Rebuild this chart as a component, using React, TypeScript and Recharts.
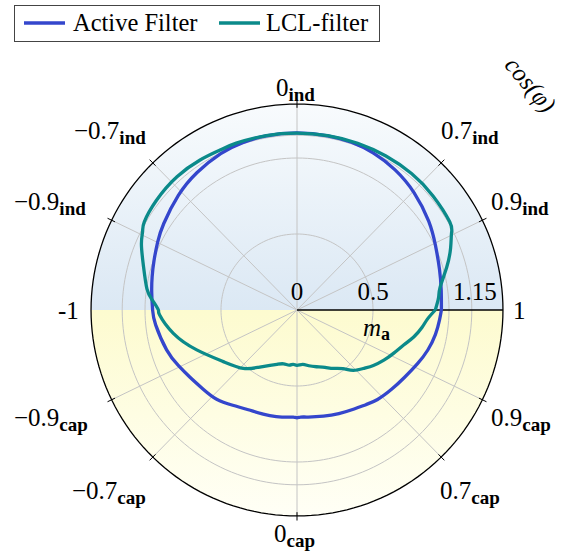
import React from 'react';
import { ComposedChart, Line, Area, XAxis, YAxis } from 'recharts';

// ---------- data (angle in degrees CCW from the cos=1 direction, value = m_a) ----------
const activeAngle = [0, 8, 16, 25, 34, 45, 55, 64, 72, 80, 90, 100, 108, 116, 126, 136, 147, 154, 161, 167, 173, 180, 186, 197, 205, 212, 220, 228, 236, 244, 252, 259, 265, 268, 270, 272, 276, 284, 292, 300, 306, 312, 320, 328, 336, 343, 350, 356, 360];
const activeMa = [0.95, 0.958, 0.975, 1.005, 1.045, 1.09, 1.125, 1.148, 1.16, 1.164, 1.165, 1.164, 1.158, 1.145, 1.118, 1.085, 1.045, 1.02, 0.995, 0.978, 0.963, 0.95, 0.935, 0.897, 0.862, 0.832, 0.808, 0.79, 0.756, 0.73, 0.72, 0.714, 0.708, 0.705, 0.709, 0.705, 0.708, 0.72, 0.735, 0.752, 0.77, 0.792, 0.812, 0.835, 0.868, 0.9, 0.925, 0.94, 0.95];

const lclAngle = [0, 5, 9, 16, 22, 26.5, 30, 40, 50, 60, 70, 80, 90, 100, 110, 116, 123, 132, 142, 150, 153, 157, 164, 172, 176, 180, 182, 190.7, 201.7, 215, 227.4, 236, 244, 250, 256, 262, 266, 270, 276, 282, 289, 296, 302, 308, 313, 319, 324, 330, 336, 342, 347, 352, 356, 360];
const lclMa = [0.91, 0.935, 0.953, 1.025, 1.09, 1.136, 1.16, 1.168, 1.172, 1.17, 1.167, 1.165, 1.163, 1.165, 1.168, 1.168, 1.175, 1.18, 1.173, 1.16, 1.14, 1.112, 1.051, 0.997, 0.955, 0.912, 0.905, 0.828, 0.71, 0.592, 0.522, 0.455, 0.405, 0.38, 0.365, 0.366, 0.358, 0.364, 0.36, 0.375, 0.395, 0.42, 0.453, 0.49, 0.543, 0.585, 0.621, 0.66, 0.697, 0.74, 0.788, 0.83, 0.86, 0.91];

const radialTickLabels = ['0', '0.5', '1.15'];
const radialTickValues = [0, 0.5, 1.15];
const gridRadii = [0.5, 1, 1.15];
const cosTickValues = [0, 0.7, 0.9];
const R_OUT = 1.355;

// ---------- layout ----------
const W = 569;
const H = 554;
const CX = 297;
const CY = 310;
const U = 152; // px per unit of m_a
const D = 1.45;
const BLUE = '#3446cc';
const TEAL = '#0b8a8a';
const GRID = '#c4c4c4';
const FONT = '"Liberation Serif", "Times New Roman", serif';

const rad = (a: number) => (a * Math.PI) / 180;
const toXY = (angles: number[], ma: number[]) =>
  angles.map((a, i) => ({ x: ma[i] * Math.cos(rad(a)), y: ma[i] * Math.sin(rad(a)) }));

const activeData = toXY(activeAngle, activeMa);
const lclData = toXY(lclAngle, lclMa);

const circle = (r: number) => {
  const pts: { x: number; y: number }[] = [];
  for (let a = 0; a <= 360; a += 2) pts.push({ x: r * Math.cos(rad(a)), y: r * Math.sin(rad(a)) });
  return pts;
};
const halfDisc = (r: number, sign: number) => {
  const pts: { x: number; y: number }[] = [];
  for (let a = 180; a >= 0; a -= 2) pts.push({ x: r * Math.cos(rad(a)), y: sign * r * Math.abs(Math.sin(rad(a))) });
  return pts;
};

const spokeAngles: number[] = [];
cosTickValues.forEach((c) => {
  const t = (Math.acos(c) * 180) / Math.PI;
  [t, 180 - t, 180 + t, 360 - t].forEach((a) => {
    if (!spokeAngles.some((s) => Math.abs(s - a) < 1e-6)) spokeAngles.push(a);
  });
});
const seg = (a: number, r0: number, r1: number) => [
  { x: r0 * Math.cos(rad(a)), y: r0 * Math.sin(rad(a)) },
  { x: r1 * Math.cos(rad(a)), y: r1 * Math.sin(rad(a)) },
];

const px = (x: number) => CX + x * U;

const Lbl = ({ x, y, main, sub, anchor = 'start' }: { x: number; y: number; main: string; sub?: string; anchor?: string }) => (
  <text x={x} y={y} fontFamily={FONT} fontSize={25} fill="#000" textAnchor={anchor as any}>
    {main}
    {sub ? (
      <tspan fontSize={19} fontWeight="bold" dy={5}>
        {sub}
      </tspan>
    ) : null}
  </text>
);

export default function App() {
  return (
    <div style={{ position: 'absolute', left: 0, top: 0, width: W, height: H }}>
      <ComposedChart
        width={W}
        height={H}
        margin={{ left: CX - D * U, right: W - CX - D * U, top: CY - D * U, bottom: H - CY - D * U }}
      >
        <defs>
          <linearGradient id="indGrad" x1="0" y1="0" x2="0" y2="1">
            <stop offset="0%" stopColor="#f8fbfd" />
            <stop offset="100%" stopColor="#dbe8f4" />
          </linearGradient>
          <linearGradient id="capGrad" x1="0" y1="0" x2="0" y2="1">
            <stop offset="0%" stopColor="#fdfbcf" />
            <stop offset="100%" stopColor="#fffff6" />
          </linearGradient>
        </defs>
        <XAxis type="number" dataKey="x" domain={[-D, D]} hide allowDataOverflow />
        <YAxis type="number" dataKey="y" domain={[-D, D]} hide allowDataOverflow />
        <Area data={halfDisc(R_OUT, 1)} dataKey="y" type="linear" baseValue={0} stroke="none" fill="url(#indGrad)" fillOpacity={1} isAnimationActive={false} dot={false} activeDot={false} />
        <Area data={halfDisc(R_OUT, -1)} dataKey="y" type="linear" baseValue={0} stroke="none" fill="url(#capGrad)" fillOpacity={1} isAnimationActive={false} dot={false} activeDot={false} />
        {gridRadii.map((r) => (
          <Line key={'g' + r} data={circle(r)} dataKey="y" type="linear" stroke={GRID} strokeWidth={1} dot={false} activeDot={false} isAnimationActive={false} />
        ))}
        {spokeAngles.map((a) => (
          <Line key={'s' + a} data={seg(a, 0, R_OUT)} dataKey="y" type="linear" stroke={GRID} strokeWidth={1} dot={false} activeDot={false} isAnimationActive={false} />
        ))}
        {spokeAngles.map((a) => (
          <Line key={'t' + a} data={seg(a, R_OUT - 0.025, R_OUT + 0.03)} dataKey="y" type="linear" stroke="#000" strokeWidth={1} dot={false} activeDot={false} isAnimationActive={false} />
        ))}
        <Line data={circle(R_OUT)} dataKey="y" type="linear" stroke="#000" strokeWidth={1.3} dot={false} activeDot={false} isAnimationActive={false} />
        <Line data={seg(0, 0, R_OUT)} dataKey="y" type="linear" stroke="#000" strokeWidth={1.3} dot={false} activeDot={false} isAnimationActive={false} />
        <Line data={activeData} dataKey="y" name="Active Filter" type="natural" stroke={BLUE} strokeWidth={3.3} dot={false} activeDot={false} isAnimationActive={false} />
        <Line data={lclData} dataKey="y" name="LCL-filter" type="natural" stroke={TEAL} strokeWidth={3.3} dot={false} activeDot={false} isAnimationActive={false} />
      </ComposedChart>
      <svg width={W} height={H} style={{ position: 'absolute', left: 0, top: 0, pointerEvents: 'none' }}>
        {/* legend */}
        <rect x={14.5} y={5.5} width={365} height={36} fill="#fff" stroke="#444" strokeWidth={1} />
        <line x1={24} x2={65} y1={23} y2={23} stroke={BLUE} strokeWidth={3.3} />
        <text x={73} y={31} fontFamily={FONT} fontSize={24.5}>Active Filter</text>
        <line x1={219} x2={260} y1={23} y2={23} stroke={TEAL} strokeWidth={3.3} />
        <text x={266} y={31} fontFamily={FONT} fontSize={24.5}>LCL-filter</text>

        {/* radial tick labels */}
        {radialTickValues.map((v, i) => (
          <text key={v} x={px(v) + (i === 2 ? 3 : 0)} y={CY - 10} fontFamily={FONT} fontSize={25} textAnchor="middle">
            {radialTickLabels[i]}
          </text>
        ))}
        <text x={363} y={CY + 26} fontFamily={FONT} fontSize={25} fontStyle="italic">
          m
          <tspan fontStyle="normal" fontWeight="bold" fontSize={18} dy={4}>a</tspan>
        </text>

        {/* angular labels */}
        <Lbl x={276} y={96} main="0" sub="ind" />
        <Lbl x={74} y={139} main="−0.7" sub="ind" />
        <Lbl x={441} y={139} main="0.7" sub="ind" />
        <Lbl x={14} y={210} main="−0.9" sub="ind" />
        <Lbl x={491} y={210} main="0.9" sub="ind" />
        <Lbl x={58} y={319} main="-1" />
        <Lbl x={513} y={319} main="1" />
        <Lbl x={14} y={426} main="−0.9" sub="cap" />
        <Lbl x={491} y={426} main="0.9" sub="cap" />
        <Lbl x={72} y={499} main="−0.7" sub="cap" />
        <Lbl x={440} y={499} main="0.7" sub="cap" />
        <Lbl x={274} y={542} main="0" sub="cap" />

        <text
          x={0}
          y={0}
          fontFamily={FONT}
          fontSize={25}
          fontStyle="italic"
          textAnchor="middle"
          transform={`translate(524 90) rotate(50)`}
        >
          cos(φ)
        </text>
      </svg>
    </div>
  );
}
